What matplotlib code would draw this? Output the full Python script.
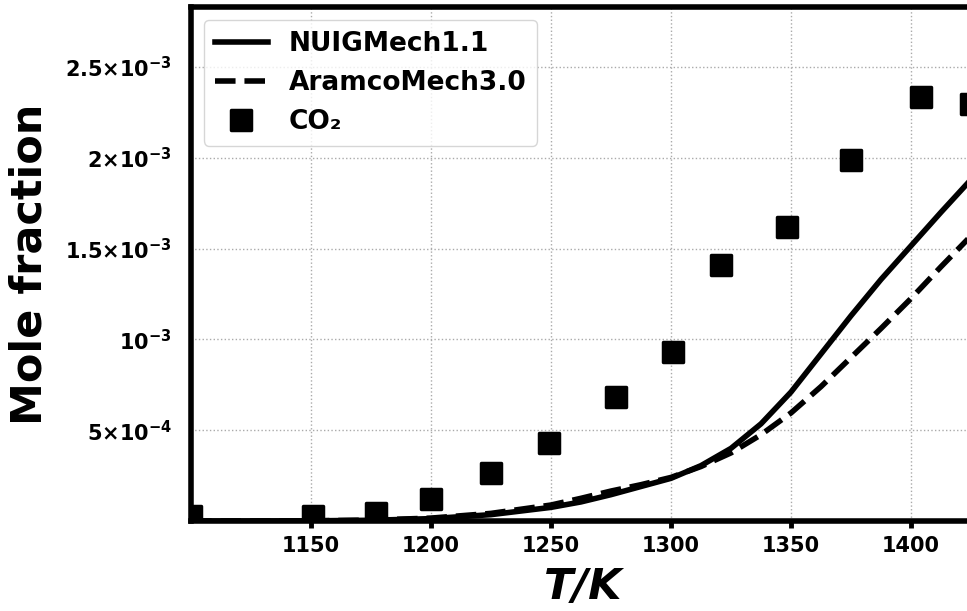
import matplotlib
matplotlib.use("Agg")
import matplotlib.pyplot as plt
from matplotlib.markers import MarkerStyle

# Experimental CO2 data
T_exp = [1100, 1151, 1177, 1200, 1225, 1249, 1277, 1301, 1321, 1348.5, 1375, 1404, 1425]
co2_exp = [3.0e-5, 2.7e-5, 4.4e-5, 1.2e-4, 2.64e-4, 4.29e-4, 6.8e-4, 9.3e-4,
           1.412e-3, 1.62e-3, 1.99e-3, 2.337e-3, 2.297e-3]

# Model curves
T_model = [1100, 1125, 1150, 1175, 1200, 1225, 1250, 1262.5, 1275, 1287.5, 1300,
           1312.5, 1325, 1337.5, 1350, 1362.5, 1375, 1387.5, 1400, 1412.5, 1425, 1440]
nuig = [0, 0, 1e-6, 4e-6, 1.3e-5, 3.5e-5, 7.5e-5, 1.05e-4, 1.45e-4, 1.9e-4, 2.35e-4,
        3.05e-4, 4.0e-4, 5.35e-4, 7.1e-4, 9.2e-4, 1.13e-3, 1.33e-3, 1.515e-3, 1.7e-3,
        1.88e-3, 2.1e-3]
aramco = [0, 0, 1e-6, 5e-6, 1.6e-5, 4.2e-5, 8.8e-5, 1.25e-4, 1.65e-4, 2.0e-4, 2.4e-4,
          3.0e-4, 3.75e-4, 4.75e-4, 5.95e-4, 7.4e-4, 9.0e-4, 1.06e-3, 1.225e-3, 1.4e-3,
          1.57e-3, 1.78e-3]

xticks = [1150, 1200, 1250, 1300, 1350, 1400]
yticks = [5e-4, 1e-3, 1.5e-3, 2e-3, 2.5e-3]
ytick_labels = [r'$\mathbf{5{\times}10^{-4}}$', r'$\mathbf{10^{-3}}$',
                r'$\mathbf{1.5{\times}10^{-3}}$', r'$\mathbf{2{\times}10^{-3}}$',
                r'$\mathbf{2.5{\times}10^{-3}}$']

plt.rcParams['font.family'] = ['DejaVu Sans']
plt.rcParams['font.weight'] = 'bold'

fig = plt.figure(figsize=(9.67, 6.11), dpi=100)
# axes extends past the right edge of the figure (cropped look)
ax = fig.add_axes([191/967, 90/611, 804/967, 514/611])

ax.plot(T_model, nuig, color='black', lw=4, ls='-', label='NUIGMech1.1')
ax.plot(T_model, aramco, color='black', lw=4, ls='--', label='AramcoMech3.0')
ax.plot(T_exp, co2_exp, ls='none', color='black',
        marker=MarkerStyle('s', joinstyle='round'), markersize=14,
        markeredgewidth=2.5, label='CO₂')

ax.set_xlim(1100, 1435)
ax.set_ylim(0, 2.83e-3)
ax.set_xticks(xticks)
ax.set_xticklabels([str(t) for t in xticks], fontsize=15, fontweight='bold')
ax.set_yticks(yticks)
ax.set_yticklabels(ytick_labels, fontsize=15)

ax.tick_params(axis='x', direction='out', length=5, width=3.5, pad=6)
ax.tick_params(axis='y', length=0, pad=14)

for s in ax.spines.values():
    s.set_linewidth(4)
ax.spines['right'].set_visible(False)

ax.grid(True, ls=':', color='#aaaaaa', lw=1)
ax.set_axisbelow(True)

ax.set_xlabel('T/K', fontsize=31, fontweight='bold', style='italic')
ax.xaxis.set_label_coords((583 - 191) / 804, -66 / 514)
ax.xaxis.label.set_va('center')
ax.set_ylabel('Mole fraction', fontsize=31, fontweight='bold')
ax.yaxis.set_label_coords(-(191 - 30) / 804, 0.5)
ax.yaxis.label.set_va('center')

leg = ax.legend(loc='upper left', prop={'size': 19, 'weight': 'bold'})

fig.savefig('out.png', dpi=100)
